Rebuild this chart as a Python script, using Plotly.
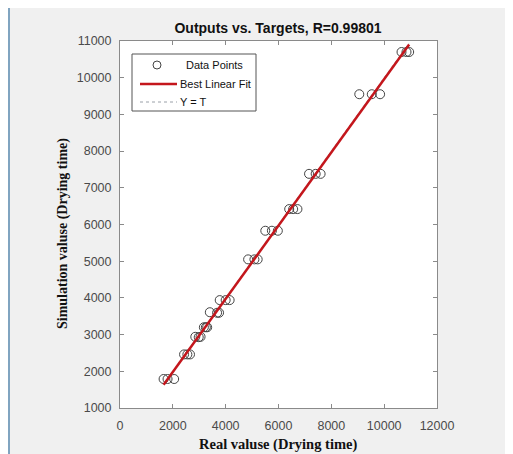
import numpy as np
import plotly.graph_objects as go

# Targets (real values) and outputs (simulated values)
targets = [1650, 1800, 2050, 2425, 2550, 2650, 2850, 2980, 3050, 3175, 3250, 3300,
           3400, 3675, 3750, 3775, 4000, 4150, 4850, 5088, 5212, 5500, 5750, 5975,
           6405, 6555, 6717, 7156, 7407, 7594, 9058, 9531, 9846, 10657, 10845, 10946]
outputs = [1790, 1790, 1790, 2460, 2460, 2460, 2940, 2930, 2940, 3200, 3200, 3200,
           3610, 3595, 3595, 3940, 3940, 3940, 5050, 5050, 5050, 5830, 5830, 5830,
           6420, 6420, 6420, 7380, 7380, 7380, 9550, 9550, 9550, 10700, 10700, 10700]
x_ticks = [0, 2000, 4000, 6000, 8000, 10000, 12000]
y_ticks = [1000, 2000, 3000, 4000, 5000, 6000, 7000, 8000, 9000, 10000, 11000]
r_value = "0.99801"
legend_labels = ["Data Points", "Best Linear Fit", "Y = T"]

t = np.array(targets, dtype=float)
o = np.array(outputs, dtype=float)
slope, intercept = np.polyfit(t, o, 1)
fit_x = [t.min(), t.max()]
fit_y = [slope * v + intercept for v in fit_x]

# the page body adds an 8px margin; the figure is sized to fill the rest
OFF = 8
W, H = 513 - OFF, 454 - OFF
L, T = 120 - OFF, 41 - OFF
R, B = W - (437 - OFF), H - (408 - OFF)
PW, PH = W - L - R, H - T - B


def px(xp):  # reference-window pixel -> paper x
    return (xp - OFF - L) / PW


def py(yp):  # reference-window pixel -> paper y
    return (H - B - (yp - OFF)) / PH


fig = go.Figure()
fig.add_trace(go.Scatter(
    x=fit_x, y=fit_x, mode="lines", name="Y = T",
    line=dict(color="#9aa0a8", width=1, dash="dot"), showlegend=False,
))
fig.add_trace(go.Scatter(
    x=targets, y=outputs, mode="markers", name="Data Points",
    marker=dict(symbol="circle-open", size=9, color="#444444", line=dict(width=1)),
    showlegend=False,
))
fig.add_trace(go.Scatter(
    x=fit_x, y=fit_y, mode="lines", name="Best Linear Fit",
    line=dict(color="#c4161c", width=2.5), showlegend=False,
))

axis_common = dict(
    showgrid=False, zeroline=False, showline=True, linecolor="#8a8a8a", linewidth=1,
    mirror="ticks", ticks="inside", ticklen=4, tickcolor="#8a8a8a", automargin=False,
    tickfont=dict(family="Liberation Sans, Arial", size=12.5, color="#4a4a4a"),
)
fig.update_xaxes(range=[0, 12000], tickvals=x_ticks, ticktext=[str(v) for v in x_ticks],
                 ticklabelstandoff=6, **axis_common)
fig.update_yaxes(range=[1000, 11000], tickvals=y_ticks, ticktext=[str(v) for v in y_ticks],
                 ticklabelstandoff=5, **axis_common)

annotations = [
    dict(text="<b>Real valuse (Drying time)</b>", xref="paper", yref="paper",
         x=px(278), y=py(444), xanchor="center", yanchor="middle", showarrow=False,
         font=dict(family="Liberation Serif, Times New Roman", size=14.5, color="#111111")),
    dict(text="<b>Simulation valuse (Drying time)</b>", xref="paper", yref="paper",
         x=px(63), y=py(234), xanchor="center", yanchor="middle", showarrow=False, textangle=-90,
         font=dict(family="Liberation Serif, Times New Roman", size=14, color="#111111")),
]

# legend (drawn manually to match the layout)
leg_x0, leg_x1, leg_y0, leg_y1 = 132, 256, 54, 111
row_y = [65, 84, 102]
shapes = [
    dict(type="line", xref="paper", yref="paper", x0=px(9), x1=px(9), y0=py(460), y1=py(8),
         line=dict(color="#5b8bb0", width=1.5)),
    dict(type="rect", xref="paper", yref="paper", x0=px(leg_x0), x1=px(leg_x1),
         y0=py(leg_y1), y1=py(leg_y0), fillcolor="white", line=dict(color="#555555", width=1)),
    dict(type="circle", xref="paper", yref="paper", x0=px(153), x1=px(161),
         y0=py(row_y[0] + 4), y1=py(row_y[0] - 4), line=dict(color="#444444", width=1)),
    dict(type="line", xref="paper", yref="paper", x0=px(140), x1=px(177),
         y0=py(row_y[1]), y1=py(row_y[1]), line=dict(color="#c4161c", width=2.5)),
    dict(type="line", xref="paper", yref="paper", x0=px(140), x1=px(177),
         y0=py(row_y[2]), y1=py(row_y[2]), line=dict(color="#9aa0a8", width=1, dash="dot")),
]
text_x = [184, 178, 178]
for lbl, yy, xx in zip(legend_labels, row_y, text_x):
    annotations.append(dict(text=lbl, xref="paper", yref="paper", x=px(xx), y=py(yy),
                            xanchor="left", yanchor="middle", showarrow=False,
                            font=dict(family="Liberation Sans, Arial", size=11, color="#111111")))

fig.update_layout(
    width=W, height=H,
    margin=dict(l=L, r=R, t=T, b=B),
    paper_bgcolor="#f0f0f0", plot_bgcolor="white",
    title=dict(text=f"<b>Outputs vs. Targets, R={r_value}</b>", xref="paper", x=px(278),
               xanchor="center", yref="container", y=1 - (28 - OFF) / H, yanchor="middle",
               font=dict(family="Liberation Sans, Arial", size=14, color="#111111")),
    showlegend=False,
    annotations=annotations,
    shapes=shapes,
)

fig.write_html("out.html")
